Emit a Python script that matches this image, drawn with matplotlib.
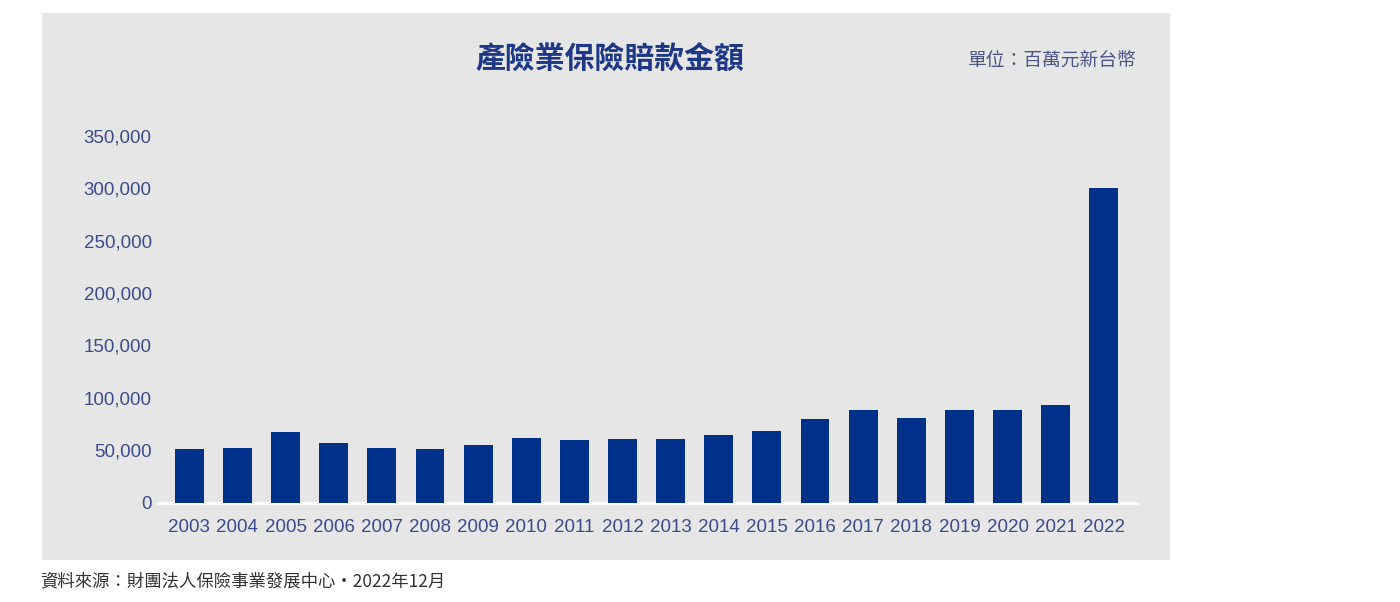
import matplotlib
matplotlib.use("Agg")
import matplotlib.pyplot as plt
from matplotlib.ticker import FuncFormatter

years = ["2003", "2004", "2005", "2006", "2007", "2008", "2009", "2010", "2011", "2012",
         "2013", "2014", "2015", "2016", "2017", "2018", "2019", "2020", "2021", "2022"]
claims = [51000, 52000, 67000, 57000, 52000, 51000, 54500, 62000, 59500, 60500,
          60500, 64500, 68000, 79500, 88000, 80500, 88000, 88000, 93500, 300500]
y_ticks = [0, 50000, 100000, 150000, 200000, 250000, 300000, 350000]

title = "產險業保險賠款金額"
unit = "單位：百萬元新台幣"
source = "資料來源：財團法人保險事業發展中心·2022年12月"

cjk = ["Noto Sans CJK TC", "DejaVu Sans"]
num = ["Liberation Sans", "DejaVu Sans"]

fig = plt.figure(figsize=(14, 6.02), dpi=100)
fig.patch.set_facecolor("white")

# gray panel as a background axes
bg = fig.add_axes([42 / 1400, 1 - 560 / 602, (1170 - 42) / 1400, (560 - 13) / 602], zorder=-5)
bg.set_facecolor("#e6e6e6")
bg.set_xticks([])
bg.set_yticks([])
for s in bg.spines.values():
    s.set_visible(False)

left, right = 158 / 1400, 1137 / 1400
bottom, top = 1 - 502.5 / 602, 1 - 136 / 602
ax = fig.add_axes([left, bottom, right - left, top - bottom], zorder=1)
ax.set_facecolor("none")

x = list(range(len(years)))
ax.bar(x, claims, width=0.6, color="#00318a", zorder=2)
ax.set_xlim(-0.65, len(years) - 1 + 0.69)
ax.set_ylim(0, 350000)
ax.set_yticks(y_ticks)
ax.yaxis.set_major_formatter(FuncFormatter(lambda v, p: f"{int(v):,}"))
ax.set_xticks(x)
ax.set_xticklabels(years)

for s in ["top", "right", "left"]:
    ax.spines[s].set_visible(False)
ax.spines["bottom"].set_color("white")
ax.spines["bottom"].set_linewidth(2)
ax.spines["bottom"].set_zorder(1)
ax.tick_params(axis="both", length=0, colors="#3a4b8e", labelsize=13.5)
ax.tick_params(axis="y", pad=4.5)
ax.tick_params(axis="x", pad=12)
for lab in ax.get_xticklabels() + ax.get_yticklabels():
    lab.set_family(num)
    lab.set_color("#3a4b8e")

fig.text(609.5 / 1400, 1 - 60 / 602, title, family=cjk, fontsize=21.5, color="#1d3887",
         ha="center", va="center", weight="bold", zorder=3)
fig.text(1137 / 1400, 1 - 60 / 602, unit, family=cjk, fontsize=13.5, color="#4b5587",
         ha="right", va="center", zorder=3)
fig.text(40 / 1400, 1 - 581 / 602, source, family=cjk, fontsize=12.5, color="#333333",
         ha="left", va="center", zorder=3)

fig.savefig("out.png", dpi=100, facecolor="white")
